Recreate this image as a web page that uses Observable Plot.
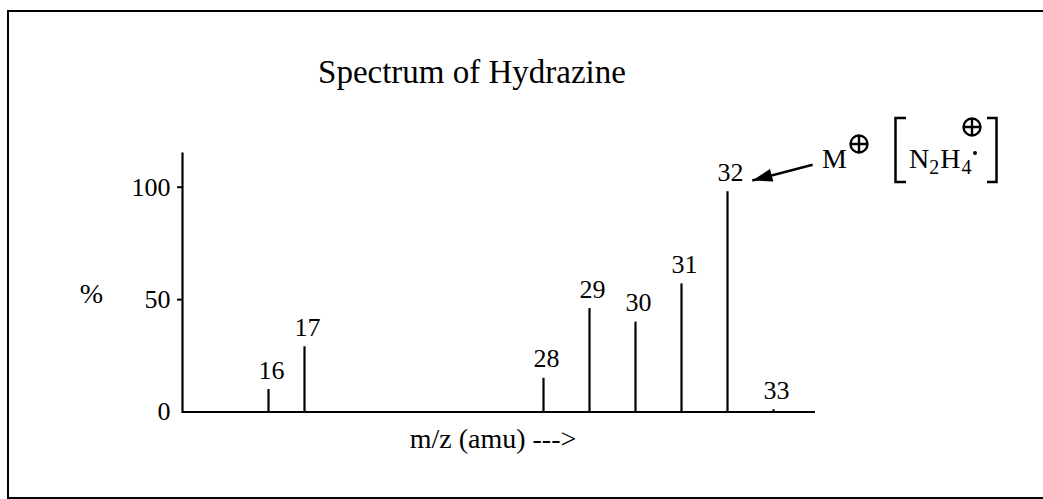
<!DOCTYPE html>
<html>
<head>
<meta charset="utf-8">
<script src="https://cdn.jsdelivr.net/npm/d3@7"></script>
<script src="https://cdn.jsdelivr.net/npm/@observablehq/plot@0.6"></script>
<style>
  html, body { margin: 0; padding: 0; background: #fff; }
  #wrap { position: relative; width: 1043px; height: 499px; overflow: hidden; font-family: "Liberation Serif", "Times New Roman", serif; }
  #border { position: absolute; left: 7px; top: 10px; width: 1100px; height: 489px; box-sizing: border-box; border: 2.5px solid #000; }
  #chart { position: absolute; left: 0; top: 0; }
  #ann { position: absolute; left: 0; top: 0; }
</style>
</head>
<body>
<div id="wrap">
  <div id="border"></div>
  <div id="chart"></div>
  <svg id="ann" width="1043" height="499" font-family="Liberation Serif, Times New Roman, serif">
    <text x="822" y="168" font-size="28">M</text>
    <g transform="translate(859,144)" stroke="#000" stroke-width="2.4" fill="none">
      <circle r="8.5"></circle>
      <path d="M-8.5,0H8.5M0,-8.5V8.5"></path>
    </g>
    <path d="M906,118H895.5V182H906" stroke="#000" stroke-width="2.5" fill="none"></path>
    <text x="909" y="168" font-size="28">N<tspan font-size="20" dy="6">2</tspan><tspan dy="-6" dx="1">H</tspan><tspan font-size="20" dy="6" dx="1">4</tspan></text>
    <circle cx="975" cy="153" r="2" fill="#000"></circle>
    <g transform="translate(972,127)" stroke="#000" stroke-width="2.4" fill="none">
      <circle r="8.5"></circle>
      <path d="M-8.5,0H8.5M0,-8.5V8.5"></path>
    </g>
    <path d="M987,118H996.5V182H987" stroke="#000" stroke-width="2.5" fill="none"></path>
  </svg>
</div>
<script>
// ---- data ----
const massCharge = [16, 17, 28, 29, 30, 31, 32, 33];
const relAbundance = [10, 29, 15, 46, 40, 57, 98, 1];
const yTicks = [50, 100];
const titleText = "Spectrum of Hydrazine";
const xLabelText = "m/z (amu) --->";
const yLabelText = "%";
// hand-drawn axis: the gap between 17 and 28 is compressed (piecewise scale)
const xBreaks = [16, 17, 28, 33];
const xBreakPixels = [268, 304, 543, 773];
// molecular ion arrow (data coords): from the "M" label to the 32 peak label
const arrowFrom = {x: 33.85, y: 110};
const arrowTo = {x: 32.54, y: 103};

const peaks = massCharge.map((m, i) => ({mz: m, pct: relAbundance[i]}));
const piecewiseX = d3.scaleLinear(xBreaks, xBreakPixels);

// elongated filled arrowhead symbol, tip at origin pointing up
const arrowHead = {
  draw(context, size) {
    const r = Math.sqrt(size / Math.PI);
    const L = 2.5 * r, w = 0.8 * r;
    context.moveTo(0, 0);
    context.lineTo(w, L);
    context.lineTo(-w, L);
    context.closePath();
  }
};

const fontSize = 26;
const W = 1043, H = 499, ML = 182, MR = 228;

const chart = Plot.plot({
  width: W,
  height: H,
  marginLeft: ML,
  marginRight: MR,
  marginTop: 153,
  marginBottom: 87.5,
  x: {transform: piecewiseX, domain: [ML, W - MR], axis: null},
  y: {domain: [0, 115]},
  style: {
    fontFamily: "'Liberation Serif', 'Times New Roman', serif",
    fontSize: fontSize + "px",
    color: "#000",
    background: "none",
    overflow: "visible"
  },
  marks: [
    Plot.frame({anchor: "left", stroke: "#000", strokeWidth: 2.2}),
    Plot.ruleY([0], {stroke: "#000", strokeWidth: 2.2}),
    Plot.ruleX(peaks, {x: "mz", y1: 0, y2: "pct", stroke: "#000", strokeWidth: 2.2}),
    Plot.text(peaks, {
      x: "mz", y: "pct", text: d => String(d.mz),
      dx: 3, dy: -11, lineAnchor: "bottom", fontSize: fontSize, fill: "#000"
    }),
    Plot.axisY({ticks: yTicks, tickSize: 5, tickPadding: 7, strokeWidth: 2, fontSize: fontSize, label: null, tickFormat: d => String(d)}),
    Plot.axisY({ticks: [0], tickSize: 0, tickPadding: 12, fontSize: fontSize, label: null, tickFormat: d => String(d)}),
    Plot.text([yLabelText], {frameAnchor: "left", text: d => d, dx: -91, dy: 20, lineAnchor: "bottom", textAnchor: "middle", fontSize: 28}),
    Plot.text([xLabelText], {frameAnchor: "bottom", text: d => d, dx: -6, dy: 35.5, lineAnchor: "bottom", fontSize: 28}),
    Plot.text([titleText], {frameAnchor: "top", text: d => d, dx: -27, dy: -71, lineAnchor: "bottom", fontSize: 33}),
    Plot.link([arrowFrom], {x1: "x", y1: "y", x2: () => arrowTo.x, y2: () => arrowTo.y, stroke: "#000", strokeWidth: 2.4}),
    Plot.dot([arrowTo], {x: "x", y: "y", symbol: arrowHead, r: 8, rotate: 255, fill: "#000", stroke: "none"})
  ]
});

document.getElementById("chart").appendChild(chart);
</script>
</body>
</html>
